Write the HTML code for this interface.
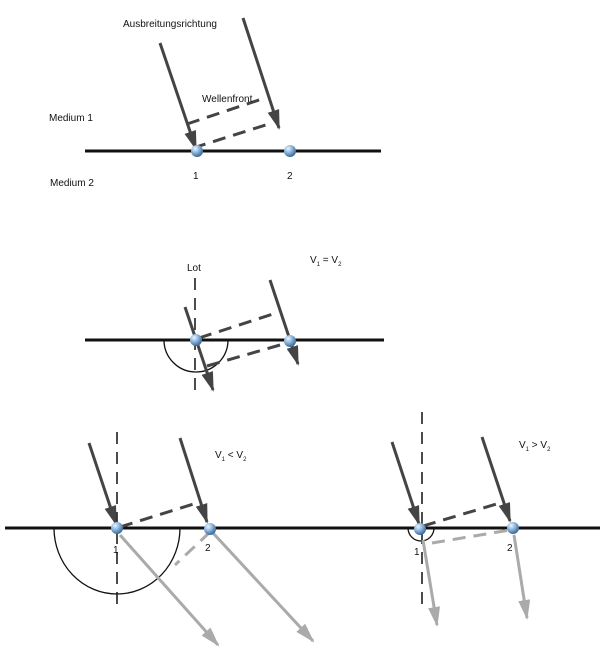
<!DOCTYPE html>
<html><head><style>body{margin:0;background:#fff}svg{display:block}text{font-family:"Liberation Sans",sans-serif;font-size:10px;fill:#111}</style></head>
<body>
<svg width="600" height="652" viewBox="0 0 600 652">
<defs>
<marker id="ad" markerWidth="20" markerHeight="12" refX="9" refY="5" orient="auto" markerUnits="userSpaceOnUse" viewBox="0 0 10 10" preserveAspectRatio="none"><path d="M0,0 L10,5 L0,10z" fill="#444"/></marker>
<marker id="ag" markerWidth="20" markerHeight="12" refX="9" refY="5" orient="auto" markerUnits="userSpaceOnUse" viewBox="0 0 10 10" preserveAspectRatio="none"><path d="M0,0 L10,5 L0,10z" fill="#aaa"/></marker>
<radialGradient id="b" cx="0.35" cy="0.3" r="0.7"><stop offset="0" stop-color="#eef6ff"/><stop offset="0.5" stop-color="#8ab4dc"/><stop offset="1" stop-color="#3e6a96"/></radialGradient>
</defs>
<g stroke="#444" stroke-width="3" fill="none">
<line x1="85" y1="151" x2="381" y2="151" stroke="#111"/>
<line x1="160" y1="43" x2="196" y2="149" marker-end="url(#ad)"/>
<line x1="243" y1="18" x2="279" y2="128" marker-end="url(#ad)"/>
<line x1="187" y1="124" x2="265" y2="98" stroke-dasharray="13,8"/>
<line x1="193" y1="148" x2="272" y2="123" stroke-dasharray="13,8"/>
<line x1="85" y1="340" x2="384" y2="340" stroke="#111"/>
<line x1="195" y1="278" x2="195" y2="392" stroke="#111" stroke-width="1.5" stroke-dasharray="12,8"/>
<path d="M164,340 A32,32 0 0 0 228,340" stroke="#111" stroke-width="1.3"/>
<line x1="185" y1="307" x2="213" y2="390" marker-end="url(#ad)"/>
<line x1="270" y1="280" x2="298" y2="364" marker-end="url(#ad)"/>
<line x1="199" y1="338" x2="276" y2="313" stroke-dasharray="13,8"/>
<line x1="207" y1="366" x2="287" y2="343" stroke-dasharray="13,8"/>
<line x1="5" y1="528" x2="600" y2="528" stroke="#111"/>
<line x1="117" y1="432" x2="117" y2="607" stroke="#111" stroke-width="1.5" stroke-dasharray="12,8"/>
<path d="M54,528 A63,66 0 0 0 180,528" stroke="#111" stroke-width="1.3"/>
<line x1="89" y1="443" x2="116" y2="524" marker-end="url(#ad)"/>
<line x1="180" y1="438" x2="207" y2="522" marker-end="url(#ad)"/>
<line x1="120" y1="527" x2="200" y2="502" stroke-dasharray="13,8"/>
<line x1="120" y1="535" x2="218" y2="645" stroke="#aaa" marker-end="url(#ag)"/>
<line x1="213" y1="533" x2="313" y2="641" stroke="#aaa" marker-end="url(#ag)"/>
<line x1="210" y1="532" x2="175" y2="565" stroke="#aaa" stroke-dasharray="13,8"/>
<line x1="422" y1="412" x2="422" y2="612" stroke="#111" stroke-width="1.5" stroke-dasharray="12,8"/>
<path d="M408,528 A13,13 0 0 0 434,528" stroke="#111" stroke-width="1.3"/>
<line x1="392" y1="442" x2="419" y2="524" marker-end="url(#ad)"/>
<line x1="482" y1="437" x2="510" y2="521" marker-end="url(#ad)"/>
<line x1="423" y1="526" x2="500" y2="503" stroke-dasharray="13,8"/>
<line x1="432" y1="543" x2="510" y2="530" stroke="#aaa" stroke-dasharray="13,8"/>
<line x1="423" y1="540" x2="437" y2="625" stroke="#aaa" marker-end="url(#ag)"/>
<line x1="514" y1="535" x2="527" y2="618" stroke="#aaa" marker-end="url(#ag)"/>
</g>
<g fill="url(#b)">
<circle cx="197" cy="151" r="6"/><circle cx="290" cy="151" r="6"/>
<circle cx="196" cy="340" r="6"/><circle cx="290" cy="341" r="6"/>
<circle cx="117" cy="528" r="6"/><circle cx="210" cy="529" r="6"/>
<circle cx="420" cy="529" r="6"/><circle cx="513" cy="528" r="6"/>
</g>
<text x="123" y="27">Ausbreitungsrichtung</text>
<text x="202" y="102">Wellenfront</text>
<text x="49" y="121">Medium 1</text>
<text x="50" y="186">Medium 2</text>
<text x="193" y="179">1</text><text x="287" y="179">2</text>
<text x="187" y="271">Lot</text>
<text x="310" y="263">V<tspan font-size="6" dy="3">1</tspan><tspan dy="-3"> = V</tspan><tspan font-size="6" dy="3">2</tspan></text>
<text x="215" y="458">V<tspan font-size="6" dy="3">1</tspan><tspan dy="-3"> &lt; V</tspan><tspan font-size="6" dy="3">2</tspan></text>
<text x="519" y="448">V<tspan font-size="6" dy="3">1</tspan><tspan dy="-3"> &gt; V</tspan><tspan font-size="6" dy="3">2</tspan></text>
<text x="113" y="553">1</text><text x="205" y="551">2</text>
<text x="414" y="555">1</text><text x="507" y="551">2</text>
</svg>
</body></html>
